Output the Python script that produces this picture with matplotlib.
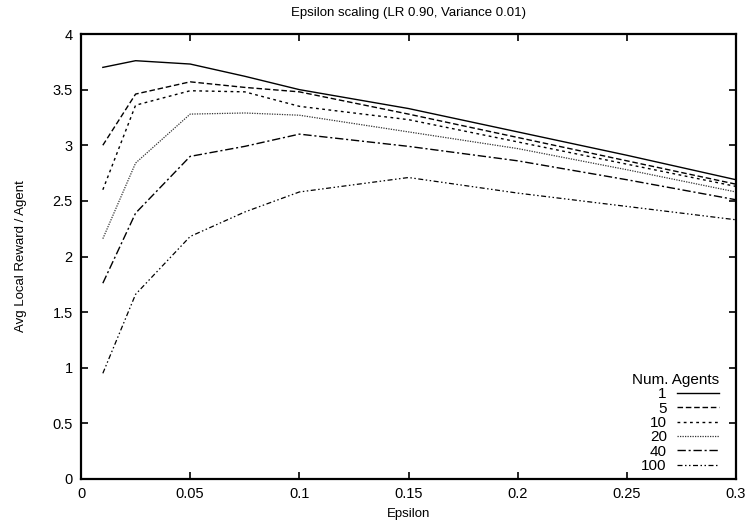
import matplotlib
matplotlib.use("Agg")
import matplotlib.pyplot as plt
from matplotlib.ticker import FixedLocator

plt.rcParams['font.family'] = ['Liberation Sans', 'DejaVu Sans']

epsilon = [0.01, 0.025, 0.05, 0.075, 0.1, 0.15, 0.2, 0.25, 0.3]
agents = ["1", "5", "10", "20", "40", "100"]
reward_1 = [3.70, 3.76, 3.73, 3.62, 3.50, 3.33, 3.12, 2.91, 2.69]
reward_5 = [3.00, 3.46, 3.57, 3.52, 3.48, 3.28, 3.07, 2.86, 2.65]
reward_10 = [2.60, 3.36, 3.49, 3.48, 3.35, 3.23, 3.03, 2.83, 2.63]
reward_20 = [2.16, 2.84, 3.28, 3.29, 3.27, 3.12, 2.97, 2.78, 2.58]
reward_40 = [1.76, 2.39, 2.90, 2.99, 3.10, 2.99, 2.86, 2.69, 2.51]
reward_100 = [0.95, 1.66, 2.18, 2.40, 2.58, 2.71, 2.57, 2.45, 2.33]
series = [reward_1, reward_5, reward_10, reward_20, reward_40, reward_100]

xticks = [0, 0.05, 0.1, 0.15, 0.2, 0.25, 0.3]
xticklabels = ["0", "0.05", "0.1", "0.15", "0.2", "0.25", "0.3"]
yticks = [0, 0.5, 1, 1.5, 2, 2.5, 3, 3.5, 4]
yticklabels = ["0", "0.5", "1", "1.5", "2", "2.5", "3", "3.5", "4"]

styles = [
    dict(linestyle='-', color='black', lw=1.0),
    dict(linestyle=(0, (4, 2)), color='black', lw=1.0),
    dict(linestyle=(0, (2, 2.5)), color='black', lw=1.0),
    dict(linestyle=(0, (1, 1)), color='#333333', lw=0.9),
    dict(linestyle=(0, (6, 2, 1.5, 2)), color='black', lw=1.0),
    dict(linestyle=(0, (4, 2, 1.2, 2, 1.2, 2)), color='black', lw=0.9),
]

W, H = 750, 527
L, R, T, B = 81, 736, 34, 479
fig = plt.figure(figsize=(W / 100, H / 100), dpi=100)
ax = fig.add_axes([L / W, 1 - B / H, (R - L) / W, (B - T) / H])

for ys, lab, st in zip(series, agents, styles):
    ax.plot(epsilon, ys, label=lab, **st)

ax.set_xlim(0, 0.3)
ax.set_ylim(0, 4)
ax.xaxis.set_major_locator(FixedLocator(xticks))
ax.set_xticklabels(xticklabels)
ax.yaxis.set_major_locator(FixedLocator(yticks))
ax.set_yticklabels(yticklabels)
ax.tick_params(direction='in', length=5, width=1.2, top=True, right=True,
               labelsize=10.5, pad=6)
for sp in ax.spines.values():
    sp.set_linewidth(1.6)

ax.set_xlabel("Epsilon", fontsize=9.5, labelpad=5)
ax.set_ylabel("Avg Local Reward / Agent", fontsize=9.5, labelpad=18)
ax.set_title("Epsilon scaling (LR 0.90, Variance 0.01)", fontsize=9.5, pad=13)

leg = ax.legend(title="Num. Agents", loc='lower right', frameon=False,
                markerfirst=False, fontsize=11, title_fontsize=11,
                handlelength=2.75, handletextpad=0.65, labelspacing=0.02,
                borderaxespad=0.0, alignment='right',
                bbox_to_anchor=(0.983, 0.0))
for t in leg.get_texts():
    t.set_ha('right')

fig.savefig("out.png", dpi=100)
